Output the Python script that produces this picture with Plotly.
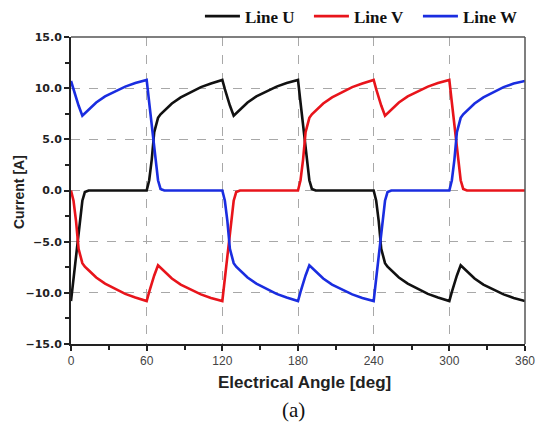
import plotly.graph_objects as go

angle = [0, 2, 4, 6, 9, 11, 14, 20, 27, 35, 43, 51,
         60, 62, 64, 66, 69, 71, 74, 80, 87, 95, 103, 111,
         120, 122, 124, 126, 129, 131, 134, 140, 147, 155, 163, 171,
         180, 182, 184, 186, 189, 191, 194, 200, 207, 215, 223, 231,
         240, 242, 244, 246, 249, 251, 254, 260, 267, 275, 283, 291,
         300, 302, 304, 306, 309, 311, 314, 320, 327, 335, 343, 351,
         360]

line_u = [-10.8, -8.6, -6.4, -4.2, -1.0, -0.15, 0, 0, 0, 0, 0, 0,
          0, 1.0, 3.0, 5.7, 7.1, 7.45, 7.8, 8.5, 9.1, 9.6, 10.1, 10.45,
          10.8, 9.9, 9.0, 8.3, 7.3, 7.55, 7.9, 8.6, 9.2, 9.7, 10.15, 10.5,
          10.8, 8.6, 6.4, 4.2, 1.0, 0.15, 0, 0, 0, 0, 0, 0,
          0, -1.0, -3.0, -5.7, -7.1, -7.45, -7.8, -8.5, -9.1, -9.6, -10.1, -10.45,
          -10.8, -9.9, -9.0, -8.3, -7.3, -7.55, -7.9, -8.6, -9.2, -9.7, -10.15, -10.5,
          -10.8]

line_v = [0, -1.0, -3.0, -5.7, -7.1, -7.45, -7.8, -8.5, -9.1, -9.6, -10.1, -10.45,
          -10.8, -9.9, -9.0, -8.3, -7.3, -7.55, -7.9, -8.6, -9.2, -9.7, -10.15, -10.5,
          -10.8, -8.6, -6.4, -4.2, -1.0, -0.15, 0, 0, 0, 0, 0, 0,
          0, 1.0, 3.0, 5.7, 7.1, 7.45, 7.8, 8.5, 9.1, 9.6, 10.1, 10.45,
          10.8, 9.9, 9.0, 8.3, 7.3, 7.55, 7.9, 8.6, 9.2, 9.7, 10.15, 10.5,
          10.8, 8.6, 6.4, 4.2, 1.0, 0.15, 0, 0, 0, 0, 0, 0,
          0]

line_w = [10.7, 9.9, 9.0, 8.3, 7.3, 7.55, 7.9, 8.6, 9.2, 9.7, 10.15, 10.5,
          10.8, 8.6, 6.4, 4.2, 1.0, 0.15, 0, 0, 0, 0, 0, 0,
          0, -1.0, -3.0, -5.7, -7.1, -7.45, -7.8, -8.5, -9.1, -9.6, -10.1, -10.45,
          -10.8, -9.9, -9.0, -8.3, -7.3, -7.55, -7.9, -8.6, -9.2, -9.7, -10.15, -10.5,
          -10.8, -8.6, -6.4, -4.2, -1.0, -0.15, 0, 0, 0, 0, 0, 0,
          0, 1.0, 3.0, 5.7, 7.1, 7.45, 7.8, 8.5, 9.1, 9.6, 10.1, 10.45,
          10.7]

series_names = ["Line U", "Line V", "Line W"]
series_colors = ["#111111", "#e8141b", "#1a2de0"]
x_ticks = [0, 60, 120, 180, 240, 300, 360]
y_ticks = [-15, -10, -5, 0, 5, 10, 15]

fig = go.Figure()
for name, vals, col in zip(series_names, [line_u, line_v, line_w], series_colors):
    fig.add_trace(go.Scatter(x=angle, y=vals, mode="lines", name=name,
                             line=dict(color=col, width=2.6)))

fig.update_layout(
    width=536, height=430,
    margin=dict(l=71, r=11, t=37, b=86, autoexpand=False),
    paper_bgcolor="white", plot_bgcolor="white",
    showlegend=True,
    legend=dict(orientation="h", x=0.284, xanchor="left", y=1.125, yanchor="top",
                font=dict(family="Liberation Serif", size=17, color="#111", weight="bold"),
                bgcolor="rgba(0,0,0,0)", itemwidth=35, entrywidth=59,
                entrywidthmode="pixels", tracegroupgap=0),
    xaxis=dict(range=[0, 360], tickvals=x_ticks, ticks="outside", ticklen=5,
               tickwidth=1.5, tickcolor="#222", automargin=False,
               showline=True, linecolor="#222", linewidth=2,
               showgrid=True, gridcolor="#a8a8a8", griddash="dash", gridwidth=1,
               zeroline=False,
               minor=dict(dtick=30, ticks="outside", ticklen=4, tickcolor="#222", showgrid=False),
               tickfont=dict(family="Arial", size=12, color="#444")),
    yaxis=dict(range=[-15, 15], tickvals=y_ticks, tickformat=".1f", ticks="outside", ticklen=5,
               tickwidth=1.5, tickcolor="#222", automargin=False,
               showline=True, linecolor="#222", linewidth=2,
               showgrid=True, gridcolor="#a8a8a8", griddash="dash", gridwidth=1,
               zeroline=False,
               minor=dict(dtick=2.5, ticks="outside", ticklen=4, tickcolor="#222", showgrid=False),
               tickfont=dict(family="DejaVu Sans", size=11, color="#222", weight="bold")),
    shapes=[
        dict(type="line", xref="paper", yref="paper", x0=0, x1=1, y0=1, y1=1,
             line=dict(color="#555", width=1.5)),
        dict(type="line", xref="paper", yref="paper", x0=1, x1=1, y0=0, y1=1,
             line=dict(color="#555", width=1.5)),
    ],
    annotations=[
        dict(text="Electrical Angle [deg]", xref="paper", yref="paper", x=0.515, y=-0.124,
             xanchor="center", yanchor="middle", showarrow=False,
             font=dict(family="Arial", size=17, color="#222", weight="bold")),
        dict(text="Current [A]", xref="paper", yref="paper", x=-0.1145, y=0.495,
             xanchor="center", yanchor="middle", showarrow=False, textangle=-90,
             font=dict(family="Arial", size=14, color="#222", weight="bold")),
        dict(text="(a)", xref="paper", yref="paper", x=0.49, y=-0.215,
             xanchor="center", yanchor="middle", showarrow=False,
             font=dict(family="Liberation Serif", size=21, color="#111")),
    ],
)

fig.write_html("out.html",
               config={"displayModeBar": False},
               post_script="document.body.style.margin='0';document.body.style.overflow='hidden';")
